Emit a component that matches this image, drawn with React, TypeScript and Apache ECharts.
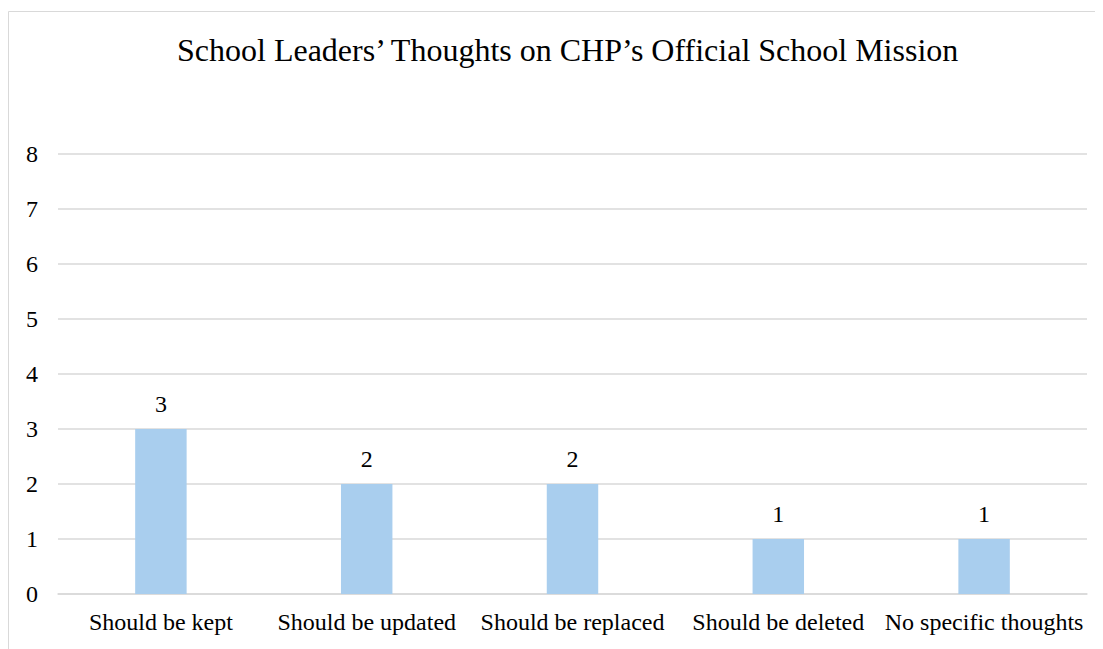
import React, { useEffect, useRef } from "react";
import * as echarts from "echarts";

const categories = [
  "Should be kept",
  "Should be updated",
  "Should be replaced",
  "Should be deleted",
  "No specific thoughts",
];
const counts = [3, 2, 2, 1, 1];
const yTicks = { min: 0, max: 8, interval: 1 };

const FONT = "'Liberation Serif', 'Times New Roman', serif";

export default function App() {
  const ref = useRef<HTMLDivElement>(null);

  useEffect(() => {
    if (!ref.current) return;
    const chart = echarts.init(ref.current, null, { renderer: "svg" });
    chart.setOption({
      animation: false,
      backgroundColor: "#ffffff",
      title: {
        text: "School Leaders\u2019 Thoughts on CHP\u2019s Official School Mission",
        left: 164,
        top: 21,
        textStyle: { fontFamily: FONT, fontSize: 32, fontWeight: "normal", color: "#000" },
      },
      graphic: [
        {
          type: "rect",
          shape: { x: 0.5, y: 3.5, width: 1300, height: 800 },
          style: { fill: "none", stroke: "#d9d9d9", lineWidth: 1 },
          silent: true,
        },
      ],
      grid: { left: 50, right: 16, top: 146, bottom: 55 },
      xAxis: {
        type: "category",
        data: categories,
        axisLine: { show: true, lineStyle: { color: "#d9d9d9", width: 1.5 } },
        axisTick: { show: false },
        axisLabel: { fontFamily: FONT, fontSize: 24, color: "#000", margin: 16, interval: 0 },
      },
      yAxis: {
        type: "value",
        min: yTicks.min,
        max: yTicks.max,
        interval: yTicks.interval,
        axisLine: { show: false },
        axisTick: { show: false },
        axisLabel: { fontFamily: FONT, fontSize: 24, color: "#000", margin: 20 },
        splitLine: { lineStyle: { color: "#d9d9d9", width: 1.5 } },
      },
      series: [
        {
          type: "bar",
          data: counts,
          barWidth: "25%",
          itemStyle: { color: "#a9ceee" },
          label: {
            show: true,
            position: "top",
            distance: 13,
            fontFamily: FONT,
            fontSize: 24,
            color: "#000",
          },
        },
      ],
    });
    return () => chart.dispose();
  }, []);

  return <div ref={ref} style={{ width: 1095, height: 641, overflow: "hidden" }} />;
}
